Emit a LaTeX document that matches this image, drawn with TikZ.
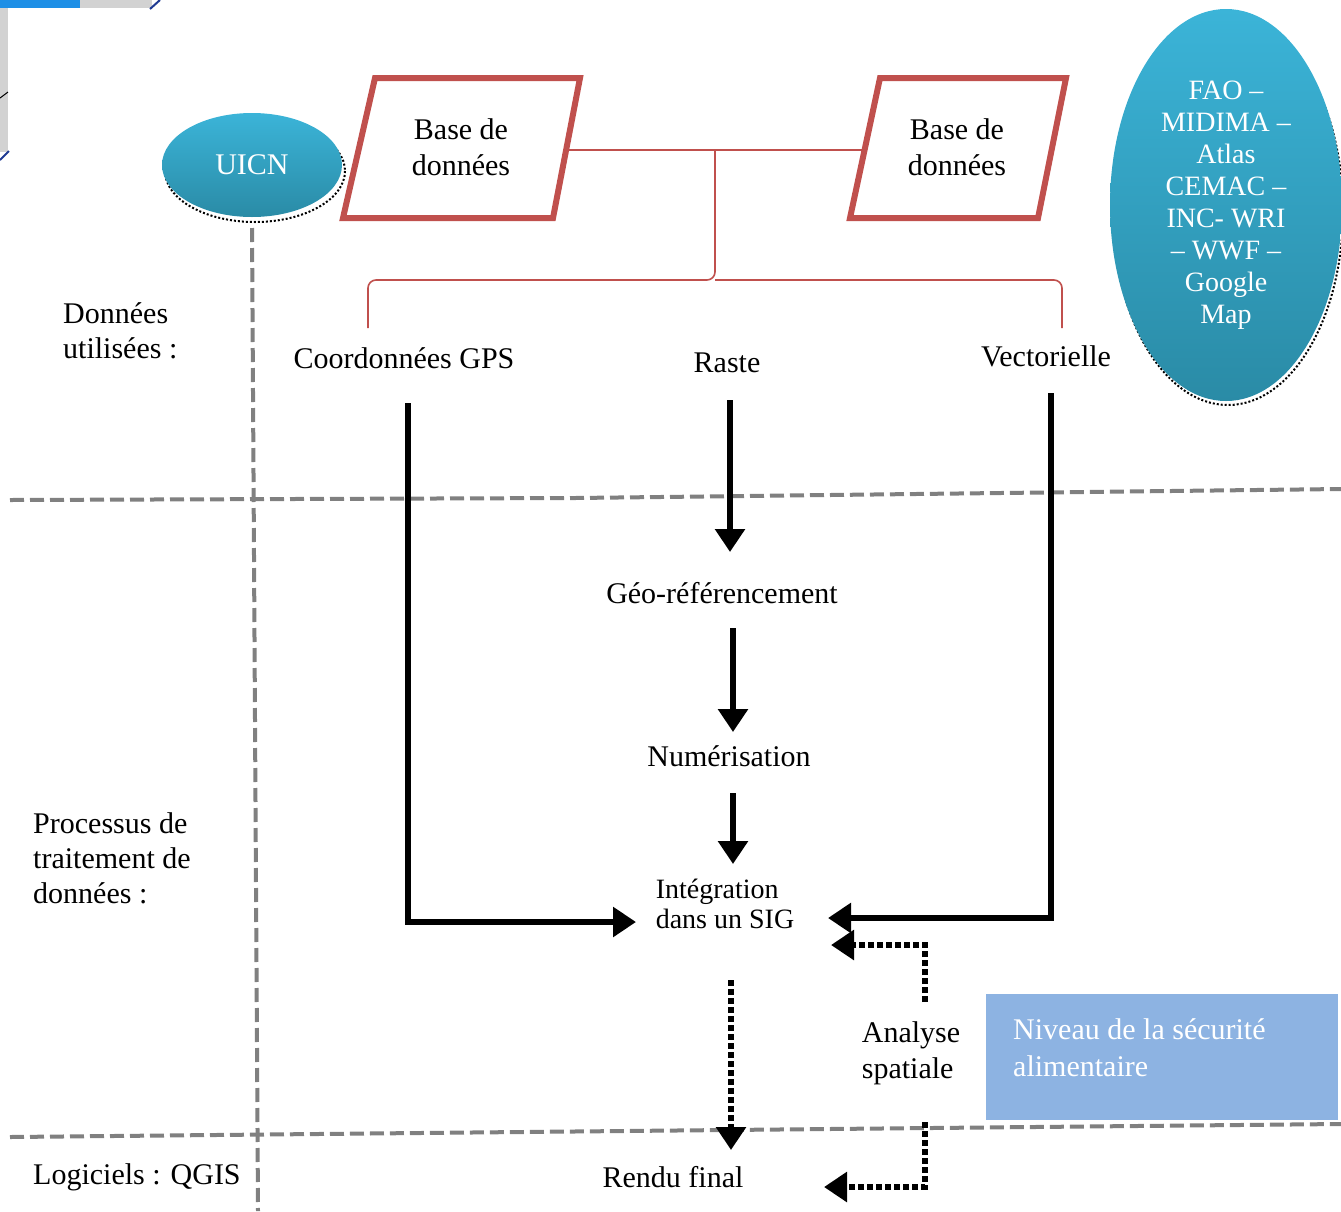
\documentclass[tikz,border=0pt]{standalone}
\usepackage{fontspec}
\setmainfont{Liberation Serif}
\usetikzlibrary{arrows.meta,shapes.geometric}
\definecolor{dbred}{HTML}{C0504D}
\definecolor{tealtop}{HTML}{3BB4D8}
\definecolor{tealbot}{HTML}{2A8BA6}
\definecolor{boxblue}{HTML}{8DB3E2}
\definecolor{sepgray}{HTML}{808080}
\definecolor{topblue}{HTML}{1E8FE6}
\definecolor{navyline}{HTML}{1F3A93}
\begin{document}
\begin{tikzpicture}[x=1pt,y=-1pt,
  txt/.style={font=\fontsize{30}{36}\selectfont, inner sep=0pt, align=center},
  ltxt/.style={font=\fontsize{30}{35}\selectfont, inner sep=0pt, align=left},
  blob/.style={ellipse, inner sep=0pt, top color=tealtop, bottom color=tealbot, text=white, align=center},
  blobshadow/.style={dotted, line width=2pt, black},
  dbbox/.style={draw=dbred, line width=6pt, line join=miter},
  redlink/.style={draw=dbred, line width=1.6pt},
  flow/.style={line width=6pt, -{Triangle[length=23pt,width=29pt]}},
  dflow/.style={line width=6pt, dash pattern=on 6pt off 3pt, -{Triangle[length=23pt,width=29pt]}},
  sep/.style={draw=sepgray, line width=4pt, dash pattern=on 14pt off 6pt}
]
\useasboundingbox (0,0) rectangle (1341,1211);

% top-left corner fragment
\fill[topblue] (0,0) rectangle (80,8);
\fill[gray!35] (80,0) rectangle (152,8);
\fill[gray!35] (0,8) rectangle (8,152);
\draw[navyline, line width=2pt] (150,9) -- (160,0);
\draw[navyline, line width=2pt] (0,160) -- (9,151);
\draw[black, line width=1pt] (0,98) -- (8,92);

% separators
\draw[sep] (10,500) -- (575,498) -- (1341,489);
\draw[sep] (10,1137) -- (1341,1124);
\draw[sep] (252,228) -- (258,1211);

% ellipses
\draw[blobshadow] (255,171) ellipse [x radius=90, y radius=51];
\node[blob, minimum width=180pt, minimum height=104pt, font=\fontsize{30}{36}\selectfont] (uicn) at (252,165) {UICN};
\draw[blobshadow] (1228,211) ellipse [x radius=115, y radius=194];
\node[blob, minimum width=232pt, minimum height=392pt, font=\fontsize{28}{32}\selectfont] (fao) at (1226,205)
  {FAO --\\MIDIMA --\\Atlas\\CEMAC --\\INC- WRI\\-- WWF --\\Google\\Map};

% databases
\draw[dbbox] (375,78) -- (580,78) -- (553,218) -- (343,218) -- cycle;
\node[txt] (db1) at (461,147) {Base de\\données};
\draw[dbbox] (880,78) -- (1066,78) -- (1038,218) -- (850,218) -- cycle;
\node[txt] (db2) at (957,147) {Base de\\données};
\coordinate (db1r) at (566,150);
\coordinate (db2l) at (865,150);
\coordinate (hub) at (715,150);

% data labels
\node[txt] (gps) at (404,358) {Coordonnées GPS};
\node[txt] (raste) at (727,363) {Raste};
\node[txt] (vect) at (1046,356) {Vectorielle};

% red connectors
\draw[redlink] (db1r) -- (db2l);
\draw[redlink, rounded corners=8pt] (368,328) -- (368,280) -- (715,280) -- (hub);
\draw[redlink, rounded corners=8pt] (1062,328) -- (1062,280) -- (715,280);

% process labels
\node[txt] (geo) at (722,593) {Géo-référencement};
\node[txt] (num) at (729,756) {Numérisation};
\node[txt, align=left, font=\fontsize{28}{30}\selectfont] (sig) at (725,904) {Intégration\\dans un SIG};
\node[txt, align=left] (ana) at (911,1053) {Analyse\\spatiale};
\node[txt] (rendu) at (673,1177) {Rendu final};

% food security box
\node[fill=boxblue, minimum width=352pt, minimum height=126pt, inner sep=0pt] (niv) at (1162,1057) {};
\node[text=white, anchor=north west, font=\fontsize{30}{37}\selectfont, inner sep=0pt, align=left] (nivt) at (1013,1018) {Niveau de la sécurité\\alimentaire};

% left labels
\node[ltxt, anchor=west] (lab1) at (63,331) {Données\\utilisées :};
\node[ltxt, anchor=west] (lab2) at (33,858) {Processus de\\traitement de\\données :};
\node[ltxt, anchor=west] (lab3) at (33,1177) {Logiciels : QGIS};

% flows
\draw[flow] (730,400) -- (730,552);
\draw[flow] (733,628) -- (733,732);
\draw[flow] (733,793) -- (733,864);
\draw[flow] (408,403) |- (636,922);
\draw[flow] (1051,393) |- (828,918);
\draw[dflow] (925,1002) |- (831,945);
\draw[dflow] (731,980) -- (731,1150);
\draw[dflow] (925,1122) |- (824,1187);
\end{tikzpicture}
\end{document}
